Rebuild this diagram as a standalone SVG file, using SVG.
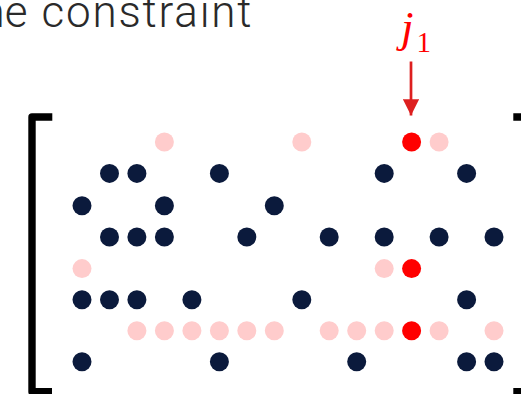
<svg xmlns="http://www.w3.org/2000/svg" width="521" height="394" viewBox="0 0 521 394">
  <defs>
    <style>
      .nz { fill: #0b1a3c; }
      .pk { fill: #ffcccc; }
      .rd { fill: #ff0000; }
      .br { fill: none; stroke: #000; stroke-width: 7.4; stroke-linejoin: round; stroke-linecap: butt; }
      .cap { font-family: Roboto, "Liberation Sans", sans-serif; font-weight: 300; font-size: 44px; fill: #2a2a2a; }
      .lbl { font-family: "Liberation Serif", serif; fill: #ff0000; }
    </style>
    <marker id="head" viewBox="0 0 10 10" refX="10" refY="5" markerWidth="6" markerHeight="6" markerUnits="strokeWidth" orient="auto">
      <path d="M0,0 L10,5 L0,10 Z" fill="#dd1f1f"/>
    </marker>
  </defs>

  <text class="cap" y="27"><tspan x="27.5" text-anchor="end">the</tspan><tspan x="41.5" textLength="210" lengthAdjust="spacing">constraint</tspan></text>

  <!-- matrix brackets -->
  <g id="bracket-left">
    <path class="br" d="M52.3,117 H32 V391.7 H52"/>
  </g>
  <g id="bracket-right">
    <path class="br" d="M513.3,117 H534 V391.7 H513.3"/>
  </g>

  <!-- column label j1 -->
  <g id="label-j1">
    <text class="lbl" x="401" y="42" font-size="45" font-style="italic">j</text>
    <text class="lbl" x="416.5" y="52" font-size="29">1</text>
  </g>

  <g id="connectors">
    <line x1="411" y1="61.5" x2="411" y2="115.5" stroke="#dd1f1f" stroke-width="2.7" marker-end="url(#head)"/>
  </g>

  <!-- sparsity pattern: columns x = 82 + 27.47k, rows y = 142 + 31.4r -->
  <g id="dots">
    <g id="row0">
      <circle class="pk" cx="164.4" cy="142" r="9.5"/>
      <circle class="pk" cx="301.8" cy="142" r="9.5"/>
      <circle class="rd" cx="411.6" cy="142" r="9.5"/>
      <circle class="pk" cx="439.1" cy="142" r="9.5"/>
    </g>
    <g id="row1">
      <circle class="nz" cx="109.5" cy="173.4" r="9.5"/>
      <circle class="nz" cx="136.9" cy="173.4" r="9.5"/>
      <circle class="nz" cx="219.4" cy="173.4" r="9.5"/>
      <circle class="nz" cx="384.2" cy="173.4" r="9.5"/>
      <circle class="nz" cx="466.6" cy="173.4" r="9.5"/>
    </g>
    <g id="row2">
      <circle class="nz" cx="82" cy="205.8" r="9.5"/>
      <circle class="nz" cx="164.4" cy="205.8" r="9.5"/>
      <circle class="nz" cx="274.3" cy="205.8" r="9.5"/>
    </g>
    <g id="row3">
      <circle class="nz" cx="109.5" cy="237" r="9.5"/>
      <circle class="nz" cx="136.9" cy="237" r="9.5"/>
      <circle class="nz" cx="164.4" cy="237" r="9.5"/>
      <circle class="nz" cx="246.8" cy="237" r="9.5"/>
      <circle class="nz" cx="329.2" cy="237" r="9.5"/>
      <circle class="nz" cx="384.2" cy="237" r="9.5"/>
      <circle class="nz" cx="439.1" cy="237" r="9.5"/>
      <circle class="nz" cx="494" cy="237" r="9.5"/>
    </g>
    <g id="row4">
      <circle class="pk" cx="82" cy="268.6" r="9.5"/>
      <circle class="pk" cx="384.2" cy="268.6" r="9.5"/>
      <circle class="rd" cx="411.6" cy="268.6" r="9.5"/>
    </g>
    <g id="row5">
      <circle class="nz" cx="82" cy="299.8" r="9.5"/>
      <circle class="nz" cx="109.5" cy="299.8" r="9.5"/>
      <circle class="nz" cx="136.9" cy="299.8" r="9.5"/>
      <circle class="nz" cx="191.9" cy="299.8" r="9.5"/>
      <circle class="nz" cx="301.8" cy="299.8" r="9.5"/>
      <circle class="nz" cx="466.6" cy="299.8" r="9.5"/>
    </g>
    <g id="row6">
      <circle class="pk" cx="136.9" cy="330.8" r="9.5"/>
      <circle class="pk" cx="164.4" cy="330.8" r="9.5"/>
      <circle class="pk" cx="191.9" cy="330.8" r="9.5"/>
      <circle class="pk" cx="219.4" cy="330.8" r="9.5"/>
      <circle class="pk" cx="246.8" cy="330.8" r="9.5"/>
      <circle class="pk" cx="274.3" cy="330.8" r="9.5"/>
      <circle class="pk" cx="329.2" cy="330.8" r="9.5"/>
      <circle class="pk" cx="356.7" cy="330.8" r="9.5"/>
      <circle class="pk" cx="384.2" cy="330.8" r="9.5"/>
      <circle class="rd" cx="411.6" cy="330.8" r="9.5"/>
      <circle class="pk" cx="439.1" cy="330.8" r="9.5"/>
      <circle class="pk" cx="494" cy="330.8" r="9.5"/>
    </g>
    <g id="row7">
      <circle class="nz" cx="82" cy="361.8" r="9.5"/>
      <circle class="nz" cx="219.4" cy="361.8" r="9.5"/>
      <circle class="nz" cx="356.7" cy="361.8" r="9.5"/>
      <circle class="nz" cx="466.6" cy="361.8" r="9.5"/>
      <circle class="nz" cx="494" cy="361.8" r="9.5"/>
    </g>
  </g>
</svg>
